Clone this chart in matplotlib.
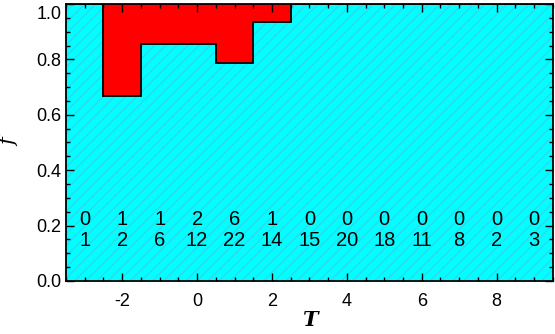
import numpy as np
import matplotlib
matplotlib.use("Agg")
import matplotlib.pyplot as plt
import matplotlib.transforms as mtransforms
from matplotlib.ticker import MultipleLocator, FormatStrFormatter

# bin centres and counts (top row = red, bottom row = cyan)
T_bins = [-3, -2, -1, 0, 1, 2, 3, 4, 5, 6, 7, 8, 9]
n_red = [0, 1, 1, 2, 6, 1, 0, 0, 0, 0, 0, 0, 0]
n_cyan = [1, 2, 6, 12, 22, 14, 15, 20, 18, 11, 8, 2, 3]

plt.rcParams["font.family"] = ["Liberation Sans", "DejaVu Sans"]
plt.rcParams["axes.unicode_minus"] = False
plt.rcParams["hatch.linewidth"] = 1.0

T = np.array(T_bins)
red = np.array(n_red)
cyan = np.array(n_cyan)
frac = cyan / (cyan + red)

fig = plt.figure(figsize=(5.55, 3.34), dpi=100)
ax = fig.add_axes([0.119, 0.159, 0.877, 0.829])

# cyan fraction with hatching
ax.bar(T, frac, width=1.0, color="#00FFFF", edgecolor="#30D8EC",
       hatch="///", linewidth=0)
# red remainder
ax.bar(T, 1 - frac, bottom=frac, width=1.0, color="#FF0000", linewidth=0)

# black outline of red region
edges = np.append(T - 0.5, T[-1] + 0.5)
ax.stairs(frac, edges, color="black", linewidth=1.3, baseline=None)
for i in range(len(T)):
    if red[i] > 0 and (i == 0 or red[i - 1] == 0):
        ax.plot([T[i] - 0.5, T[i] - 0.5], [frac[i], 1.0], color="black", lw=1.3)

# counts
for t, r, c in zip(T, red, cyan):
    ax.text(t, 0.222, str(r), ha="center", va="center", fontsize=14.5)
    ax.text(t, 0.146, str(c), ha="center", va="center", fontsize=14.5)

ax.set_xlim(-3.5, 9.5)
ax.set_ylim(0, 1.0)
ax.xaxis.set_major_locator(MultipleLocator(2))
ax.xaxis.set_minor_locator(MultipleLocator(0.5))
ax.yaxis.set_major_locator(MultipleLocator(0.2))
ax.yaxis.set_minor_locator(MultipleLocator(0.05))
ax.yaxis.set_major_formatter(FormatStrFormatter("%.1f"))
ax.tick_params(which="both", direction="in", top=True, right=True, labelsize=13)
ax.tick_params(which="major", length=6, width=1)
ax.tick_params(which="minor", length=3, width=1)
ax.tick_params(axis="x", pad=9)
for s in ax.spines.values():
    s.set_linewidth(1.3)

ax.set_xlabel("T", fontsize=15, family="serif", style="italic", weight="bold", labelpad=0)
ax.set_ylabel("f", fontsize=15, family="serif", style="italic", labelpad=12)

# nudge the top y label down so it stays inside the figure
fig.canvas.draw()
shift = mtransforms.ScaledTranslation(0, -6 / 72, fig.dpi_scale_trans)
for tick in ax.yaxis.get_major_ticks():
    if abs(tick.get_loc() - 1.0) < 1e-6:
        tick.label1.set_transform(tick.label1.get_transform() + shift)

fig.savefig("out.png", dpi=100)
